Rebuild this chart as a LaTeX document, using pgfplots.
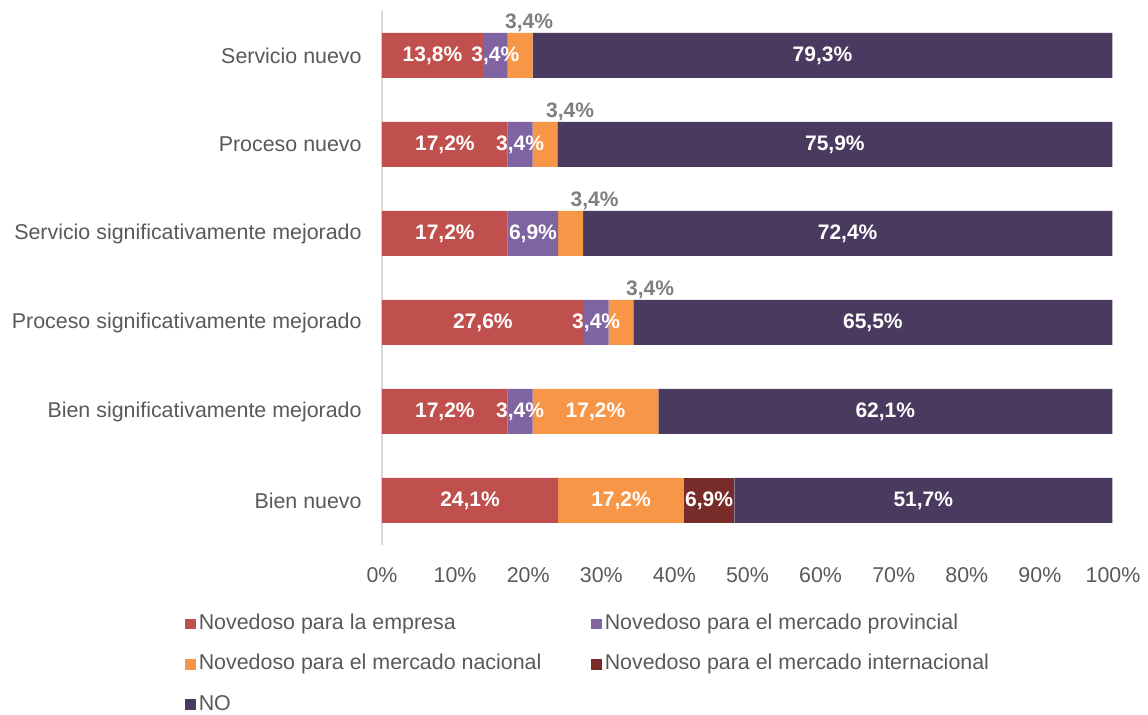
\documentclass[border=0pt]{standalone}
\usepackage{fontspec}
\setmainfont{Liberation Sans}
\usepackage{pgfplots}
\pgfplotsset{compat=1.18}
\usepackage{pgfplotstable}

\definecolor{cEmp}{HTML}{C0504D}
\definecolor{cProv}{HTML}{8064A2}
\definecolor{cNac}{HTML}{F79646}
\definecolor{cInt}{HTML}{772C2A}
\definecolor{cNo}{HTML}{4B3A5F}
\definecolor{tickgray}{HTML}{595959}
\definecolor{lblgray}{HTML}{7F7F7F}
\definecolor{axgray}{HTML}{D9D9D9}

\pgfplotstableread{
y v lab
0 24.1 {24,1\%}
1 17.2 {17,2\%}
2 27.6 {27,6\%}
3 17.2 {17,2\%}
4 17.2 {17,2\%}
5 13.8 {13,8\%}
}\tEmp

\pgfplotstableread{
y v lab
0 0 {}
1 3.4 {3,4\%}
2 3.4 {3,4\%}
3 6.9 {6,9\%}
4 3.4 {3,4\%}
5 3.4 {3,4\%}
}\tProv

\pgfplotstableread{
y v lab dx dy g
0 17.2 {17,2\%} 0 0 0
1 17.2 {17,2\%} 0 0 0
2 3.4 {3,4\%} 14.5 16.5 100
3 3.4 {3,4\%} 12 16.5 100
4 3.4 {3,4\%} 12.5 16.5 100
5 3.4 {3,4\%} 4.5 16.5 100
}\tNac

\pgfplotstableread{
y v lab
0 6.9 {6,9\%}
1 0 {}
2 0 {}
3 0 {}
4 0 {}
5 0 {}
}\tInt

\pgfplotstableread{
y v lab
0 51.7 {51,7\%}
1 62.1 {62,1\%}
2 65.5 {65,5\%}
3 72.4 {72,4\%}
4 75.9 {75,9\%}
5 79.3 {79,3\%}
}\tNo

\begin{document}
\begin{tikzpicture}
\begin{axis}[
  at={(0,0)}, anchor=south west,
  scale only axis,
  width=365.5pt, height=267pt,
  xbar stacked,
  bar width=22.5pt,
  xmin=0, xmax=100,
  ymin=-0.5, ymax=5.5,
  xtick={0,10,...,100},
  xticklabels={0\%,10\%,20\%,30\%,40\%,50\%,60\%,70\%,80\%,90\%,100\%},
  ytick={0,1,2,3,4,5},
  yticklabels={Bien nuevo, Bien significativamente mejorado, Proceso significativamente mejorado, Servicio significativamente mejorado, Proceso nuevo, Servicio nuevo},
  separate axis lines,
  x axis line style={draw=none},
  y axis line style={draw=axgray, line width=0.8pt},
  axis y line*=left,
  axis x line*=bottom,
  major tick length=0pt,
  tick style={draw=none},
  /pgf/number format/assume math mode=true,
  every tick label/.append style={font=\fontsize{10.7}{12.8}\selectfont, text=tickgray},
  yticklabel style={inner sep=0pt, xshift=-10pt, anchor=east},
  xticklabel style={inner sep=0pt, yshift=-11pt, anchor=north},
  set layers,
  mark layer=axis foreground,
  nodes near coords,
  point meta=explicit symbolic,
  every node near coord/.append style={anchor=center, font=\bfseries\fontsize{10.5}{12}\selectfont, text=white, inner sep=0pt},
  legend columns=2,
  legend cell align=left,
  legend style={at={(-0.2695,-0.124)}, anchor=north west, draw=none, fill=none, inner sep=0pt,
    row sep=7.5pt, column sep=0pt,
    /tikz/column 2/.style={column sep=23.5pt},
    font=\fontsize{10.7}{12.8}\selectfont, text=tickgray,
    nodes={inner sep=1.5pt, text height=7.6pt, text depth=2pt}},
  legend image code/.code={\fill[#1] (0pt,-2.6pt) rectangle (5.2pt,2.6pt);},
]
\addplot[fill=cEmp, draw=none] table[x=v, y=y, meta=lab] {\tEmp};
\addlegendentry{Novedoso para la empresa}
\addplot[fill=cProv, draw=none] table[x=v, y=y, meta=lab] {\tProv};
\addlegendentry{Novedoso para el mercado provincial}
\addplot[fill=cNac, draw=none,
  visualization depends on={\thisrow{dx} \as \dx},
  visualization depends on={\thisrow{dy} \as \dy},
  visualization depends on={\thisrow{g} \as \gp},
  every node near coord/.append style={xshift={\dx pt}, yshift={\dy pt}, text=lblgray!\gp!white}]
  table[x=v, y=y, meta=lab] {\tNac};
\addlegendentry{Novedoso para el mercado nacional}
\addplot[fill=cInt, draw=none] table[x=v, y=y, meta=lab] {\tInt};
\addlegendentry{Novedoso para el mercado internacional}
\addplot[fill=cNo, draw=none] table[x=v, y=y, meta=lab] {\tNo};
\addlegendentry{NO}
\end{axis}
\pgfresetboundingbox
\path[use as bounding box] (-191pt,-85pt) rectangle (383pt,272.5pt);
\end{tikzpicture}
\end{document}
